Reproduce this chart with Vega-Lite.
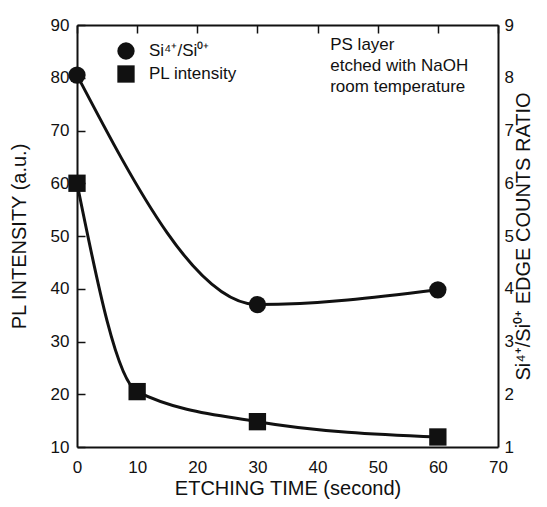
{
  "$schema": "https://vega.github.io/schema/vega-lite/v6.json",
  "width": 421,
  "height": 422,
  "autosize": {"type": "none"},
  "padding": {"left": 77, "top": 25, "right": 49, "bottom": 60},
  "background": "white",
  "config": {
    "view": {"stroke": null},
    "font": "Liberation Sans",
    "axis": {
      "domainColor": "#111111",
      "domainWidth": 2,
      "ticks": false,
      "tickSize": 0,
      "grid": true,
      "gridColor": "#111111",
      "gridWidth": 1.5,
      "gridOpacity": 1,
      "gridDash": [8, 2000],
      "labelFontSize": 17,
      "labelColor": "#111111",
      "labelFont": "Liberation Sans",
      "titleFont": "Liberation Sans",
      "titleFontSize": 20,
      "titleFontWeight": "normal",
      "titleColor": "#111111",
      "labelFlush": false,
      "labelOverlap": false
    }
  },
  "datasets": {
    "pl": [
      {"time": 0, "value": 60, "series": "PL intensity"},
      {"time": 10, "value": 20.5, "series": "PL intensity"},
      {"time": 30, "value": 14.8, "series": "PL intensity"},
      {"time": 60, "value": 11.9, "series": "PL intensity"}
    ],
    "ratio": [
      {"time": 0, "value": 8.05, "series": "Si⁴⁺/Si⁰⁺"},
      {"time": 30, "value": 3.7, "series": "Si⁴⁺/Si⁰⁺"},
      {"time": 60, "value": 3.98, "series": "Si⁴⁺/Si⁰⁺"}
    ],
    "note": [
      {"time": 42.1, "value": 87.7, "label": ["PS layer", "etched with NaOH", "room temperature"]}
    ]
  },
  "layer": [
    {
      "layer": [
        {
          "data": {"name": "pl"},
          "mark": {"type": "line", "interpolate": "monotone", "color": "#111111", "strokeWidth": 3},
          "encoding": {
            "x": {"field": "time", "type": "quantitative", "scale": {"domain": [0, 70], "nice": false},
              "axis": {"orient": "bottom", "values": [0, 10, 20, 30, 40, 50, 60, 70], "title": "ETCHING TIME  (second)", "labelPadding": 12, "titlePadding": 3}},
            "y": {"field": "value", "type": "quantitative", "scale": {"domain": [10, 90], "nice": false, "zero": false},
              "axis": {"orient": "left", "values": [10, 20, 30, 40, 50, 60, 70, 80, 90], "title": "PL INTENSITY (a.u.)", "labelPadding": 8, "titlePadding": 21}}
          }
        },
        {
          "data": {"name": "pl"},
          "mark": {"type": "point", "filled": true, "color": "#111111", "size": 300, "opacity": 1},
          "encoding": {
            "x": {"field": "time", "type": "quantitative"},
            "y": {"field": "value", "type": "quantitative"},
            "shape": {"field": "series", "type": "nominal",
              "scale": {"domain": ["Si⁴⁺/Si⁰⁺", "PL intensity"], "range": ["circle", "square"]},
              "legend": {"orient": "none", "legendX": 40, "legendY": 17, "title": null, "padding": 0, "offset": 0,
                "symbolSize": 300, "symbolFillColor": "#111111", "symbolStrokeWidth": 0, "symbolOpacity": 1,
                "labelFontSize": 17, "labelColor": "#111111", "labelFont": "Liberation Sans", "labelOffset": 14, "rowPadding": 5}}
          }
        },
        {
          "data": {"name": "note"},
          "mark": {"type": "text", "align": "left", "baseline": "top", "fontSize": 17, "lineHeight": 21, "color": "#111111", "font": "Liberation Sans"},
          "encoding": {
            "x": {"field": "time", "type": "quantitative"},
            "y": {"field": "value", "type": "quantitative"},
            "text": {"field": "label"}
          }
        }
      ]
    },
    {
      "layer": [
        {
          "data": {"name": "ratio"},
          "mark": {"type": "line", "interpolate": "monotone", "color": "#111111", "strokeWidth": 3},
          "encoding": {
            "x": {"field": "time", "type": "quantitative", "scale": {"domain": [0, 70], "nice": false},
              "axis": {"orient": "top", "values": [0, 10, 20, 30, 40, 50, 60, 70], "labels": false, "title": null}},
            "y": {"field": "value", "type": "quantitative", "scale": {"domain": [1, 9], "nice": false, "zero": false},
              "axis": {"orient": "right", "values": [1, 2, 3, 4, 5, 6, 7, 8, 9], "title": "Si⁴⁺/Si⁰⁺ EDGE COUNTS RATIO", "titleAngle": 270, "labelPadding": 6, "titlePadding": 20}}
          }
        },
        {
          "data": {"name": "ratio"},
          "mark": {"type": "point", "filled": true, "color": "#111111", "size": 300, "opacity": 1},
          "encoding": {
            "x": {"field": "time", "type": "quantitative"},
            "y": {"field": "value", "type": "quantitative"},
            "shape": {"field": "series", "type": "nominal"}
          }
        }
      ]
    }
  ],
  "resolve": {"scale": {"y": "independent"}, "axis": {"x": "independent", "y": "independent"}}
}
